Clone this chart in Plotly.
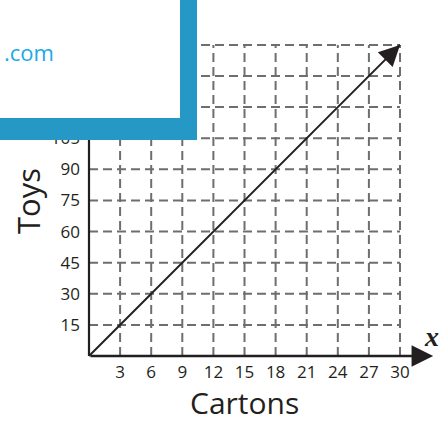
import plotly.graph_objects as go

# ---- data ----
cartons = [0, 30]
toys = [0, 150]
x_ticks = [3, 6, 9, 12, 15, 18, 21, 24, 27, 30]
y_ticks = [15, 30, 45, 60, 75, 90, 105, 120, 135, 150]
x_title = "Cartons"
y_title = "Toys"
site_text = ".com"

W, H = 443, 423
SX, SY = 10.367, 2.074          # pixels per unit
OX, OY = 89, 356                # origin pixel
L, R, T, B = 84, 8, 0, 62
PW, PH = W - L - R, H - T - B
X0 = -(OX - L) / SX
X1 = X0 + PW / SX
Y0 = -(H - B - OY) / SY
Y1 = Y0 + PH / SY


def px(xp):
    return (xp - L) / PW


def py(yp):
    return (H - B - yp) / PH


INK = "#231f20"
GRID = "#6d6e71"
FONT = "Open Sans"

fig = go.Figure()

# dashed grid
for xv in x_ticks:
    fig.add_trace(go.Scatter(x=[xv, xv], y=[0, y_ticks[-1]], mode="lines",
                             line=dict(color=GRID, width=2, dash="9px,5px"),
                             hoverinfo="skip", showlegend=False))
for yv in y_ticks:
    fig.add_trace(go.Scatter(x=[0, x_ticks[-1]], y=[yv, yv], mode="lines",
                             line=dict(color=GRID, width=2, dash="9px,5px"),
                             hoverinfo="skip", showlegend=False))

# y axis line
fig.add_trace(go.Scatter(x=[0, 0], y=[0, Y1], mode="lines",
                         line=dict(color=INK, width=2.2),
                         hoverinfo="skip", showlegend=False))

# main line
fig.add_trace(go.Scatter(x=cartons, y=toys, mode="lines",
                         line=dict(color=INK, width=2),
                         hoverinfo="skip", showlegend=False))

annotations = []
# x axis arrow
annotations.append(dict(x=33.2, y=0, ax=0, ay=0, xref="x", yref="y",
                        axref="x", ayref="y", text="", showarrow=True,
                        arrowhead=2, arrowsize=1.8, arrowwidth=2.4,
                        arrowcolor=INK, standoff=0))
# main line arrow head
annotations.append(dict(x=cartons[-1], y=toys[-1],
                        ax=cartons[-1] - 1, ay=toys[-1] - 5,
                        xref="x", yref="y", axref="x", ayref="y",
                        text="", showarrow=True, arrowhead=2, arrowsize=1.9,
                        arrowwidth=2.2, arrowcolor=INK, standoff=0))
# axis titles
annotations.append(dict(x=px(244), y=py(402), xref="paper", yref="paper",
                        xanchor="center", yanchor="middle",
                        text=x_title, showarrow=False,
                        font=dict(family=FONT, size=30, color=INK)))
annotations.append(dict(x=px(28), y=py(201), xref="paper", yref="paper",
                        xanchor="center", yanchor="middle",
                        text=y_title, showarrow=False, textangle=-90,
                        font=dict(family=FONT, size=31, color=INK)))
annotations.append(dict(x=px(431), y=py(336), xref="paper", yref="paper",
                        xanchor="center", yanchor="middle",
                        text="<b><i>x</i></b>", showarrow=False,
                        font=dict(family="Liberation Serif", size=28, color=INK)))
annotations.append(dict(x=px(56), y=py(52), xref="paper", yref="paper",
                        xanchor="right", yanchor="middle",
                        text=site_text, showarrow=False,
                        font=dict(family=FONT, size=22, color="#1aaae6")))

shapes = [
    dict(type="rect", xref="paper", yref="paper", layer="above",
         x0=px(-5), x1=px(197), y0=py(140), y1=py(-5),
         fillcolor="#2598c5", line=dict(width=0)),
    dict(type="rect", xref="paper", yref="paper", layer="above",
         x0=px(-5), x1=px(180), y0=py(118), y1=py(-5),
         fillcolor="white", line=dict(width=0)),
]

fig.update_layout(
    width=W, height=H,
    margin=dict(l=L, r=R, t=T, b=B, pad=0),
    paper_bgcolor="white", plot_bgcolor="white",
    showlegend=False,
    annotations=annotations,
    shapes=shapes,
    xaxis=dict(range=[X0, X1], tickvals=x_ticks, ticktext=[str(v) for v in x_ticks],
               showgrid=False, zeroline=False, showline=False, ticks="",
               ticklabelstandoff=-1,
               tickfont=dict(family=FONT, size=17, color=INK)),
    yaxis=dict(range=[Y0, Y1], tickvals=y_ticks, ticktext=[str(v) for v in y_ticks],
               showgrid=False, zeroline=False, showline=False, ticks="",
               ticklabelstandoff=3,
               tickfont=dict(family=FONT, size=17, color=INK)),
)

fig.write_html("out.html", config={"displayModeBar": False},
               post_script="document.body.style.margin='0';document.body.style.overflow='hidden';")
